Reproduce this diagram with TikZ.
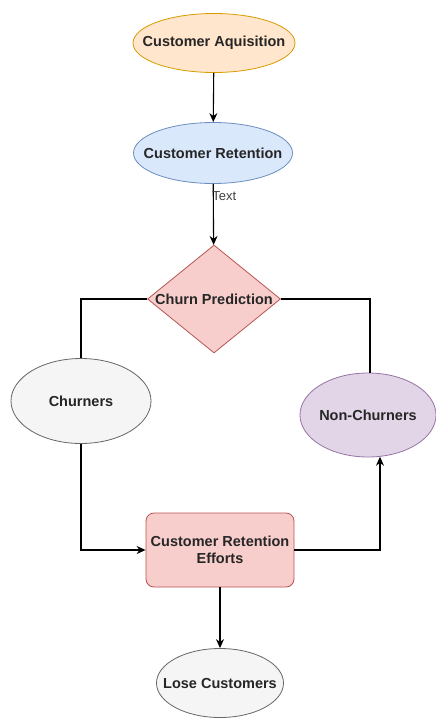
\documentclass[tikz,border=0pt]{standalone}
\usepackage{fontspec}
\setmainfont{Liberation Sans}
\usetikzlibrary{shapes.geometric,arrows.meta}

\definecolor{acqfill}{HTML}{FFE6CC}
\definecolor{acqline}{HTML}{D79B00}
\definecolor{retfill}{HTML}{DAE8FC}
\definecolor{retline}{HTML}{6C8EBF}
\definecolor{redfill}{HTML}{F8CECC}
\definecolor{redline}{HTML}{B85450}
\definecolor{greyfill}{HTML}{F5F5F5}
\definecolor{greyline}{HTML}{666666}
\definecolor{lilacfill}{HTML}{E1D5E7}
\definecolor{lilacline}{HTML}{9673A6}

\begin{document}
\begin{tikzpicture}[x=1pt, y=-1pt,
    every node/.style={font=\fontsize{14.5}{16.5}\selectfont\bfseries, text=black!85},
    oval/.style={ellipse, draw, line width=0.8pt, inner sep=0pt},
    arr/.style={-{Stealth[length=9pt,width=8pt]}, line width=1.1pt},
    link/.style={line width=1.1pt}]
    \useasboundingbox (0,0) rectangle (436,718);

    % Draw stages
    \node[oval, draw=acqline, fill=acqfill, minimum width=162pt, minimum height=59pt,
          label={center:Customer Aquisition}] (acq) at (214,43) {};
    \node[oval, draw=retline, fill=retfill, minimum width=159pt, minimum height=61pt,
          label={center:Customer Retention}] (ret) at (213,153) {};
    \node[diamond, draw=redline, fill=redfill, line width=0.8pt, minimum width=133pt,
          minimum height=108pt, inner sep=0pt, label={center:Churn Prediction}] (pred) at (214,299) {};

    % Draw outcomes
    \node[oval, draw=greyline, fill=greyfill, minimum width=140pt, minimum height=85pt,
          label={center:Churners}] (churn) at (81,401) {};
    \node[oval, draw=lilacline, fill=lilacfill, minimum width=136pt, minimum height=84pt,
          label={center:Non-Churners}] (nonchurn) at (368,415) {};
    \node[draw=redline, fill=redfill, line width=0.8pt, rounded corners=8pt, minimum width=148pt,
          minimum height=74pt, inner sep=0pt, align=center] (effort) at (220,550) {Customer Retention\\Efforts};
    \node[oval, draw=greyline, fill=greyfill, minimum width=127pt, minimum height=69pt,
          label={center:Lose Customers}] (lose) at (220,683) {};

    % Draw connectors
    \draw[arr] (acq) -- (ret);
    \draw[arr] (ret) -- node[pos=0.2, xshift=11pt, font=\fontsize{13}{15}\selectfont, text=black!75] {Text} (pred);
    \draw[link] (pred.west) -| (churn.north);
    \draw[link] (pred.east) -| ([xshift=2pt]nonchurn.north);
    \draw[arr] (churn.south) |- (effort.west);
    \draw[arr] (effort.east) -| (nonchurn.286);
    \draw[arr] (effort) -- (lose);
\end{tikzpicture}
\end{document}
